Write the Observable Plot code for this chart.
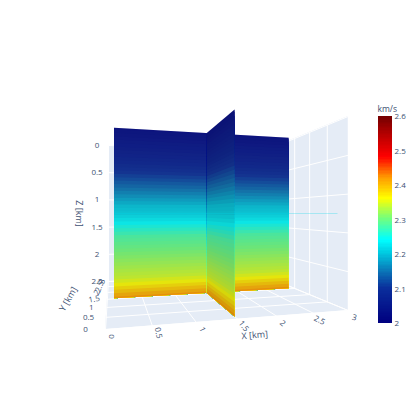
<!DOCTYPE html>
<html><head><meta charset="utf-8">
<script src="https://cdn.jsdelivr.net/npm/d3@7"></script>
<script src="https://cdn.jsdelivr.net/npm/@observablehq/plot@0.6"></script>
<style>
html,body{margin:0;padding:0;background:#fff;overflow:hidden}
#chart{position:relative;width:415px;height:415px}
#chart>svg{position:absolute;left:0;top:0}
</style></head><body><div id="chart"></div>
<script>
// Data
const xTicks = [0, 0.5, 1, 1.5, 2, 2.5, 3];
const yTicks = [0, 0.5, 1, 1.5, 2, 2.5, 3];
const zTicks = [0, 0.5, 1, 1.5, 2, 2.5];
const colorTicks = [2, 2.1, 2.2, 2.3, 2.4, 2.5, 2.6];
const depthStep = 0.05;
const velocity = [2.02,2.025,2.03,2.035,2.04,2.045,2.05,2.055,2.06,2.065,2.07,2.08,2.09,2.10,2.11,2.12,2.13,2.14,2.15,2.16,2.17,2.18,2.19,2.20,2.205,2.21,2.22,2.23,2.24,2.25,2.26,2.27,2.28,2.285,2.29,2.295,2.30,2.305,2.31,2.315,2.32,2.325,2.33,2.335,2.34,2.35,2.36,2.375,2.39,2.405,2.42];
const colorDomain = [2, 2.1, 2.15, 2.2, 2.24, 2.3, 2.36, 2.42, 2.48, 2.55, 2.6];
const colorRange = ["#000080","#0a2f9c","#0a78b8","#00c8e0","#00ffff","#70ff80","#ffff00","#ff9a00","#ff0000","#b00000","#700000"];
const slabLow = 0.1, slabHigh = 2.9, slabMid = 1.5, zMax = 2.5, boxX = 3, boxY = 3;

// Perspective camera of the 3D scene
const depth = (x, y) => 0.00431 + 0.00028 * x + 0.001013 * y;
const px = (x, y) => (0.4526 + 0.4463 * x + 0.1137 * y) / depth(x, y);
const py = (x, y, z) => 213 + (z / zMax - 0.5) / depth(x, y);
const pt = (x, y, z) => ({X: px(x, y), Y: py(x, y, z)});

const color = {type: "linear", domain: colorDomain, range: colorRange, interpolate: "rgb"};
const scene = {x: {domain: [0, 415], range: [0, 415], axis: null}, y: {domain: [0, 415], range: [0, 415], axis: null}};

function quad(id, a0, a1, b0, b1, extra = {}) {
  return [[a0, b0], [a1, b1]].map(([a, b]) => ({id, x1: a.X, y1: a.Y, x2: b.X, y2: b.Y, ...extra}));
}
const areaOf = (rows, o) => Plot.area(rows, {x1: "x1", y1: "y1", x2: "x2", y2: "y2", z: "id", ...o});
const segs = (list) => list.flatMap(([id, a, b]) => [{id, ...a}, {id, ...b}]);
const lineOf = (rows, o) => Plot.line(rows, {x: "X", y: "Y", z: "id", ...o});

// walls
const wallRows = [
  ...quad("floor", pt(0,0,zMax), pt(boxX,0,zMax), pt(0,boxY,zMax), pt(boxX,boxY,zMax)),
  ...quad("back", pt(0,boxY,0), pt(boxX,boxY,0), pt(0,boxY,zMax), pt(boxX,boxY,zMax)),
  ...quad("right", pt(boxX,0,0), pt(boxX,boxY,0), pt(boxX,0,zMax), pt(boxX,boxY,zMax))
];
const grid = segs([
  ...xTicks.map(x => ["fx"+x, pt(x,0,zMax), pt(x,boxY,zMax)]),
  ...yTicks.map(y => ["fy"+y, pt(0,y,zMax), pt(boxX,y,zMax)]),
  ...xTicks.map(x => ["bx"+x, pt(x,boxY,0), pt(x,boxY,zMax)]),
  ...zTicks.map(z => ["bz"+z, pt(0,boxY,z), pt(boxX,boxY,z)]),
  ...yTicks.map(y => ["ry"+y, pt(boxX,y,0), pt(boxX,y,zMax)]),
  ...zTicks.map(z => ["rz"+z, pt(boxX,0,z), pt(boxX,boxY,z)])
]);

// slab bands, painted top to bottom; each runs to the slab's foot and the next covers it
const bands = (name, a, b) => velocity.flatMap((v, i) => {
  const z0 = i === 0 ? 0 : (i - 0.5) * depthStep;
  return quad(name + i, pt(a[0],a[1],z0), pt(b[0],b[1],z0), pt(a[0],a[1],zMax), pt(b[0],b[1],zMax), {v});
});
const yEnds = [[slabLow, slabMid], [slabHigh, slabMid]];
const xEnds = [[slabMid, slabLow], [slabMid, slabMid]];
const ySlab = bands("y", ...yEnds);
const xSlab = bands("x", ...xEnds);
const shade = (id, e) => quad(id, pt(e[0][0],e[0][1],0), pt(e[1][0],e[1][1],0), pt(e[0][0],e[0][1],zMax), pt(e[1][0],e[1][1],zMax));
const zSliceValue = velocity[25];
const zSlice = segs([["slice", pt(slabLow,slabLow,zMax/2), pt(slabHigh,slabLow,zMax/2)]]);

// tick labels
const ink = "#3d5172", font = "Open Sans";
const xLabels = xTicks.map(x => ({...pt(x,0,zMax), t: String(x), r: 15 + 25 * (boxX - x)}));
const yRot = [0, 0, 0, -10, -60, -70, -70];
const yLabels = yTicks.map((y, i) => ({...pt(0,y,zMax), t: String(y), r: yRot[i], off: -20 + 4.5 * y}));
const zLabels = zTicks.map(z => ({...pt(0,boxY,z), t: String(z)}));
const titles = [
  {...pt(1.5,0,zMax), t: "X [km]", r: -5, dx: 17, dy: 16},
  {...pt(0,0.6,zMax), t: "Y [km]", r: -60, dx: -38, dy: -16},
  {...pt(0,boxY,zMax/2), t: "Z [km]", r: 90, dx: -30, dy: 0}
];

const textOpts = {fill: ink, fontFamily: font, fontSize: 8, text: "t", x: "X", y: "Y"};
const main = Plot.plot({
  width: 415, height: 415, margin: 0, ...scene, color,
  style: {background: "transparent"},
  marks: [
    areaOf(wallRows, {fill: "#e5ecf6"}),
    lineOf(grid, {stroke: "white", strokeWidth: 1}),
    areaOf(ySlab, {fill: "v"}),
    areaOf(shade("sy", yEnds), {fill: "#505050", fillOpacity: 0.15}),
    areaOf(xSlab, {fill: "v"}),
    areaOf(shade("sx", xEnds), {fill: "#303030", fillOpacity: 0.2}),
    lineOf(zSlice, {stroke: () => zSliceValue, strokeWidth: 0.7, strokeOpacity: 0.4}),
    Plot.text(xLabels, {...textOpts, rotate: "r", dx: 6, dy: 7}),
    Plot.text(yLabels, {...textOpts, rotate: "r", x: d => d.X + d.off}),
    Plot.text(zLabels, {...textOpts, dx: -11.5}),
    ...titles.map(d => Plot.text([d], {...textOpts, fontSize: 9, rotate: d.r, dx: d.dx, dy: d.dy}))
  ]
});
document.getElementById("chart").appendChild(main);

// colour bar
const ramp = d3.range(2, 2.6, 0.004);
const bar = Plot.plot({
  width: 415, height: 415, marginTop: 116, marginBottom: 92, marginLeft: 378, marginRight: 23,
  color,
  x: {domain: [0, 1], axis: null},
  y: {domain: [2, 2.6], axis: null},
  style: {background: "transparent"},
  marks: [
    Plot.rect(ramp, {x1: 0, x2: 1, y1: d => d, y2: d => Math.min(2.6, d + 0.01), fill: d => d, shapeRendering: "crispEdges"}),
    Plot.axisY({anchor: "right", ticks: colorTicks, tickSize: 0, tickPadding: 2, tickFormat: d => String(d), fill: ink, fontFamily: font, fontSize: 8, label: null}),
    Plot.text(["km/s"], {frameAnchor: "top-left", dy: -11, dx: -1, fill: ink, fontFamily: font, fontSize: 8.5})
  ]
});
document.getElementById("chart").appendChild(bar);
</script></body></html>
